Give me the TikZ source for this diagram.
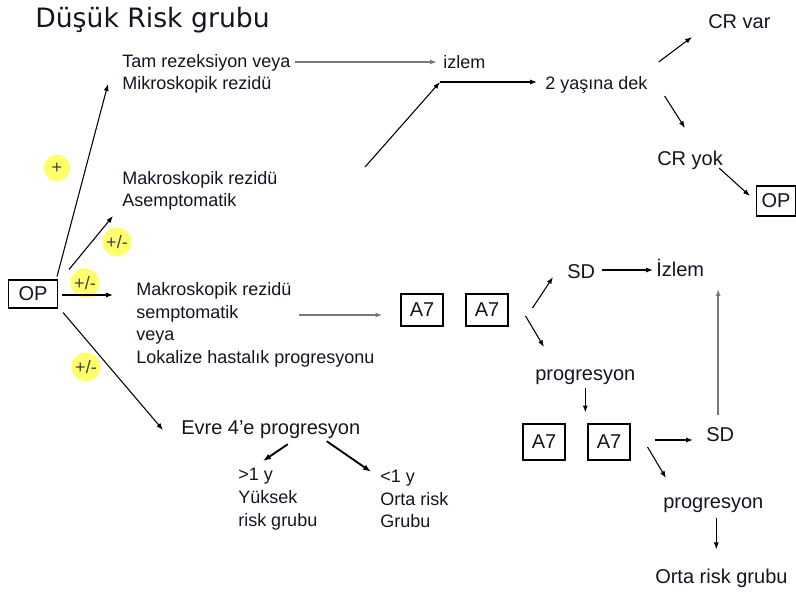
\documentclass[tikz,border=0pt]{standalone}
\usepackage{fontspec}
\setmainfont{Liberation Sans}
\newfontfamily\titlefont{DejaVu Sans}
\usetikzlibrary{arrows.meta,calc}
\definecolor{badgeyellow}{RGB}{255,255,110}
\definecolor{linegray}{RGB}{120,120,120}
\definecolor{txtcol}{RGB}{20,20,35}
\begin{document}
\begin{tikzpicture}[x=0.75pt,y=-0.75pt,
 sm/.style={font=\fontsize{13.5}{17}\selectfont, inner sep=0pt, align=left, anchor=west, text=txtcol},
 lg/.style={font=\fontsize{15}{18}\selectfont, inner sep=0pt, anchor=west, text=txtcol},
 boxnode/.style={draw, line width=0.8pt, font=\fontsize{15}{18}\selectfont, text=txtcol, inner sep=0pt, minimum width=31.5pt, minimum height=24pt},
 arr/.style={-{Latex[length=5.2pt,width=3.8pt]}, line width=0.8pt},
 garr/.style={arr, draw=linegray, line width=1.1pt},
 tarr/.style={-{Latex[length=6pt,width=4.5pt]}, line width=1.4pt},
 badge/.style={circle, fill=badgeyellow, minimum size=21.75pt, inner sep=0pt, font=\fontsize{13.5}{16}\selectfont, text=black!75}]
\useasboundingbox (0,0) rectangle (796,594);
% badges
\node[badge, minimum size=20pt] (bA) at (57,168) {+};
\node[badge] (bB) at (117,242) {+/-};
\node[badge] (bC) at (85,283) {+/-};
\node[badge] (bD) at (86,367) {+/-};
% title
\node[anchor=west, inner sep=0pt, text=txtcol, font=\titlefont\fontsize{20}{24}\selectfont] (title) at (35,20) {Düşük Risk grubu};
% nodes
\node[boxnode, minimum width=36.75pt, minimum height=21pt] (op) at (33,294) {OP};
\node[sm] (tam) at (122,74) {Tam rezeksiyon veya\\Mikroskopik rezidü};
\node[sm] (izlemA) at (443,62) {izlem};
\node[sm] (yas) at (545,85) {2 yaşına dek};
\node[lg] (crvar) at (708,22) {CR var};
\node[lg] (cryok) at (657,160) {CR yok};
\node[boxnode, minimum width=29.25pt, minimum height=22.5pt] (opB) at (776,201) {OP};
\node[sm] (asemp) at (122,191) {Makroskopik rezidü\\Asemptomatik};
\node[sm] (semp) at (136,325) {Makroskopik rezidü\\semptomatik\\veya\\Lokalize hastalık progresyonu};
\node[boxnode] (a7a) at (422,310) {A7};
\node[boxnode] (a7b) at (487,310) {A7};
\node[lg] (sdA) at (567,272) {SD};
\node[lg] (izlemB) at (656,268) {İzlem};
\node[lg] (progA) at (535,377) {progresyon};
\node[boxnode, minimum height=27pt] (a7c) at (544,442) {A7};
\node[boxnode, minimum height=27pt] (a7d) at (609,442) {A7};
\node[lg] (sdB) at (706,435) {SD};
\node[lg] (progB) at (663,505) {progresyon};
\node[lg] (orta) at (655,578) {Orta risk grubu};
\node[lg] (evre) at (181,430) {Evre 4’e progresyon};
\node[sm] (yuksek) at (238,499) {>1 y\\Yüksek\\risk grubu};
\node[sm] (ortaA) at (380,499) {<1 y\\Orta risk\\Grubu};
\coordinate (k1) at (365,167);
\coordinate (k2) at (440,82);
% connectors
\draw[arr] ($(op.north east)+(-1,-3)$) -- ($(tam.west)+(-14,10)$);
\draw[garr] ($(tam.north east |- izlemA.west)+(4,0)$) -- ($(izlemA.west)+(-6,0)$);
\draw[arr] (k1) -- (k2);
\draw[arr] (k2) -- ($(k2 -| yas.west)+(-8,0)$);
\draw[arr] ($(yas.east)+(11,-23)$) -- ($(crvar.west)+(-16,15)$);
\draw[arr] ($(yas.east)+(17,11)$) -- ($(cryok.west)+(28,-32)$);
\draw[arr] ($(cryok.east)+(-4,8)$) -- ($(opB.west)+(-6,-5)$);
\draw[arr] ($(op.north east)+(11,-10)$) -- ($(asemp.west)+(-9,25)$);
\draw[arr] ($(op.east)+(4,1)$) -- ($(op.east -| semp.west)+(-23,1)$);
\draw[garr] ($(a7a.west)+(-101,5)$) -- ($(a7a.west)+(-18,5)$);
\draw[arr] ($(a7b.east)+(24,-2)$) -- ($(sdA.west)+(-14,5)$);
\draw[arr] ($(sdA.east)+(7,-2)$) -- ($(izlemB.west)+(-3,2)$);
\draw[arr] ($(a7b.east)+(17,6)$) -- ($(progA.west)+(9,-30)$);
\draw[arr] ($(progA.south)+(0,3)$) -- ($(progA.south |- a7c.north)+(0,-11)$);
\draw[arr] ($(a7d.east)+(24,-2)$) -- ($(sdB.west)+(-13,5)$);
\draw[garr] ($(sdB.north)+(-2,-13)$) -- ($(sdB.north |- izlemB.south)+(-2,12)$);
\draw[arr] ($(a7d.east)+(17,5)$) -- ($(progB.west)+(3,-27)$);
\draw[arr] ($(progB.south)+(3,5)$) -- ($(progB.south |- orta.north)+(3,-19)$);
\draw[arr] ($(op.south east)+(5,4)$) -- ($(evre.west)+(-18,0)$);
\draw[tarr] ($(evre.south)+(17,5)$) -- ($(yuksek.north west)+(25,-7)$);
\draw[tarr] ($(evre.south)+(56,2)$) -- ($(ortaA.north west)+(-9,2)$);
\end{tikzpicture}
\end{document}
